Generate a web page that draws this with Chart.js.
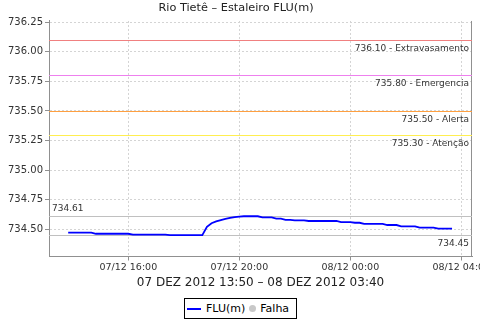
<!DOCTYPE html>
<html>
<head>
<meta charset="utf-8">
<script src="https://cdn.jsdelivr.net/npm/chart.js@4.4.0/dist/chart.umd.min.js"></script>
<style>
  html, body { margin: 0; padding: 0; background: #fff; }
  #wrap { position: relative; width: 480px; height: 320px; }
  #legend {
    position: absolute; left: 184px; top: 298px; width: 113px; height: 21px;
    box-sizing: border-box; border: 1px solid #000; background: #fff;
    font: 11px "DejaVu Sans", sans-serif; color: #000;
    display: flex; align-items: center; white-space: nowrap;
  }
  #legend .line { display: inline-block; width: 14px; height: 2px; background: #0000ff; margin: 0 5px 0 2px; }
  #legend .dot { display: inline-block; width: 7px; height: 7px; border-radius: 50%; background: #c8c8c8; margin: 0 4px 0 4px; }
</style>
</head>
<body>
<div id="wrap">
  <canvas id="chart" width="480" height="320"></canvas>
  <div id="legend"><span class="line"></span>FLU(m)<span class="dot"></span>Falha</div>
</div>
<script>
// readings every 10 min, 07/12 13:50 -> 08/12 03:40
const times = [
  '13:50','14:00','14:10','14:20','14:30','14:40','14:50','15:00','15:10','15:20',
  '15:30','15:40','15:50','16:00','16:10','16:20','16:30','16:40','16:50','17:00',
  '17:10','17:20','17:30','17:40','17:50','18:00','18:10','18:20','18:30','18:40',
  '18:50','19:00','19:10','19:20','19:30','19:40','19:50','20:00','20:10','20:20',
  '20:30','20:40','20:50','21:00','21:10','21:20','21:30','21:40','21:50','22:00',
  '22:10','22:20','22:30','22:40','22:50','23:00','23:10','23:20','23:30','23:40',
  '23:50','00:00','00:10','00:20','00:30','00:40','00:50','01:00','01:10','01:20',
  '01:30','01:40','01:50','02:00','02:10','02:20','02:30','02:40','02:50','03:00',
  '03:10','03:20','03:30','03:40'
];
const flu = [
  734.472,734.472,734.472,734.472,734.472,734.472,734.462,734.462,734.462,734.462,
  734.462,734.462,734.462,734.462,734.455,734.455,734.455,734.455,734.455,734.455,
  734.455,734.455,734.450,734.450,734.450,734.450,734.450,734.450,734.450,734.450,
  734.520,734.551,734.566,734.577,734.587,734.596,734.603,734.607,734.610,734.610,
  734.610,734.610,734.600,734.600,734.600,734.590,734.590,734.580,734.580,734.575,
  734.575,734.575,734.570,734.570,734.570,734.570,734.570,734.570,734.570,734.560,
  734.560,734.560,734.555,734.555,734.545,734.545,734.545,734.545,734.545,734.536,
  734.536,734.536,734.525,734.525,734.525,734.525,734.514,734.514,734.514,734.514,
  734.505,734.505,734.505,734.505
];

const markerValues = [736.10, 735.80, 735.50, 735.30];
const markerNames = ['Extravasamento', 'Emergencia', 'Alerta', 'Atenção'];

const yTicks = [734.50, 734.75, 735.00, 735.25, 735.50, 735.75, 736.00, 736.25];
const xTicks = [16, 20, 24, 28];
const xTickLabels = ['07/12 16:00', '07/12 20:00', '08/12 00:00', '08/12 04:00'];

// hours counted from 07/12 00:00
function toHours(t) {
  const [h, m] = t.split(':').map(Number);
  return h + m / 60 + (h < 12 ? 24 : 0);
}
const points = times.map((t, i) => ({ x: toHours(t), y: flu[i] }));

const markerColors = ['#f08080', '#ee80ee', '#ffa040', '#ffee50'];

const markersPlugin = {
  id: 'markers',
  beforeDatasetsDraw(chart) {
    const { ctx, chartArea: a, scales: { y } } = chart;
    ctx.save();
    ctx.lineWidth = 1;
    ctx.setLineDash([]);
    ctx.font = '9px "DejaVu Sans"';
    ctx.textBaseline = 'middle';

    // right outline
    ctx.strokeStyle = '#909090';
    ctx.beginPath();
    ctx.moveTo(a.right - 0.5, a.top);
    ctx.lineTo(a.right - 0.5, a.bottom);
    ctx.stroke();

    markerValues.forEach((v, i) => {
      const py = Math.round(y.getPixelForValue(v)) + 0.5;
      ctx.strokeStyle = markerColors[i];
      ctx.beginPath();
      ctx.moveTo(a.left, py);
      ctx.lineTo(a.right, py);
      ctx.stroke();
      ctx.fillStyle = '#333';
      ctx.textAlign = 'right';
      ctx.fillText(v.toFixed(2) + ' - ' + markerNames[i], a.right - 3, py + 8);
    });

    const hi = Math.max(...flu), lo = Math.min(...flu);
    [hi, lo].forEach((v, i) => {
      const py = Math.round(y.getPixelForValue(v)) + 0.5;
      ctx.strokeStyle = '#c0c0c0';
      ctx.beginPath();
      ctx.moveTo(a.left, py);
      ctx.lineTo(a.right, py);
      ctx.stroke();
      ctx.fillStyle = '#333';
      if (i === 0) {
        ctx.textAlign = 'left';
        ctx.fillText(v.toFixed(2), a.left + 3, py - 8);
      } else {
        ctx.textAlign = 'right';
        ctx.fillText(v.toFixed(2), a.right - 3, py + 8);
      }
    });
    ctx.restore();
  }
};

Chart.defaults.font.family = '"DejaVu Sans", sans-serif';

const ctx = document.getElementById('chart').getContext('2d');
new Chart(ctx, {
  type: 'line',
  data: {
    datasets: [{
      label: 'FLU(m)',
      data: points,
      borderColor: '#0000ff',
      borderWidth: 1.8,
      pointRadius: 0,
      tension: 0,
      fill: false
    }]
  },
  options: {
    responsive: false,
    animation: false,
    layout: { padding: { left: 0, right: 8, top: 0, bottom: 28.5 } },
    plugins: {
      legend: { display: false },
      tooltip: { enabled: false },
      title: {
        display: true,
        text: 'Rio Tietê – Estaleiro FLU(m)',
        color: '#222',
        font: { size: 11.3, weight: 'normal' },
        padding: { top: 1, bottom: 6.4 }
      }
    },
    scales: {
      x: {
        type: 'linear',
        min: 13.142,
        max: 28.386,
        afterBuildTicks: s => { s.ticks = xTicks.map(v => ({ value: v })); },
        afterFit: s => { s.height = 35; s.paddingLeft = 0; s.paddingRight = 0; },
        ticks: {
          color: '#333',
          font: { size: 9.5 },
          padding: 1,
          maxRotation: 0,
          autoSkip: false,
          callback: v => xTickLabels[xTicks.indexOf(v)]
        },
        grid: { color: '#d4d4d4', tickColor: '#909090', tickLength: 4 },
        border: { color: '#909090', dash: [2, 2] },
        title: {
          display: true,
          text: '07 DEZ 2012 13:50 – 08 DEZ 2012 03:40',
          color: '#222',
          font: { size: 12 },
          padding: { top: 0, bottom: 1.8 }
        }
      },
      y: {
        min: 734.27,
        max: 736.26,
        afterBuildTicks: s => { s.ticks = yTicks.map(v => ({ value: v })); },
        afterFit: s => { s.width = 49; s.paddingTop = 0; s.paddingBottom = 0; },
        ticks: {
          color: '#333',
          font: { size: 10 },
          padding: 2,
          callback: v => v.toFixed(2)
        },
        grid: { color: '#d4d4d4', tickColor: '#909090', tickLength: 4 },
        border: { color: '#909090', dash: [2, 2] }
      }
    }
  },
  plugins: [markersPlugin]
});
</script>
</body>
</html>
